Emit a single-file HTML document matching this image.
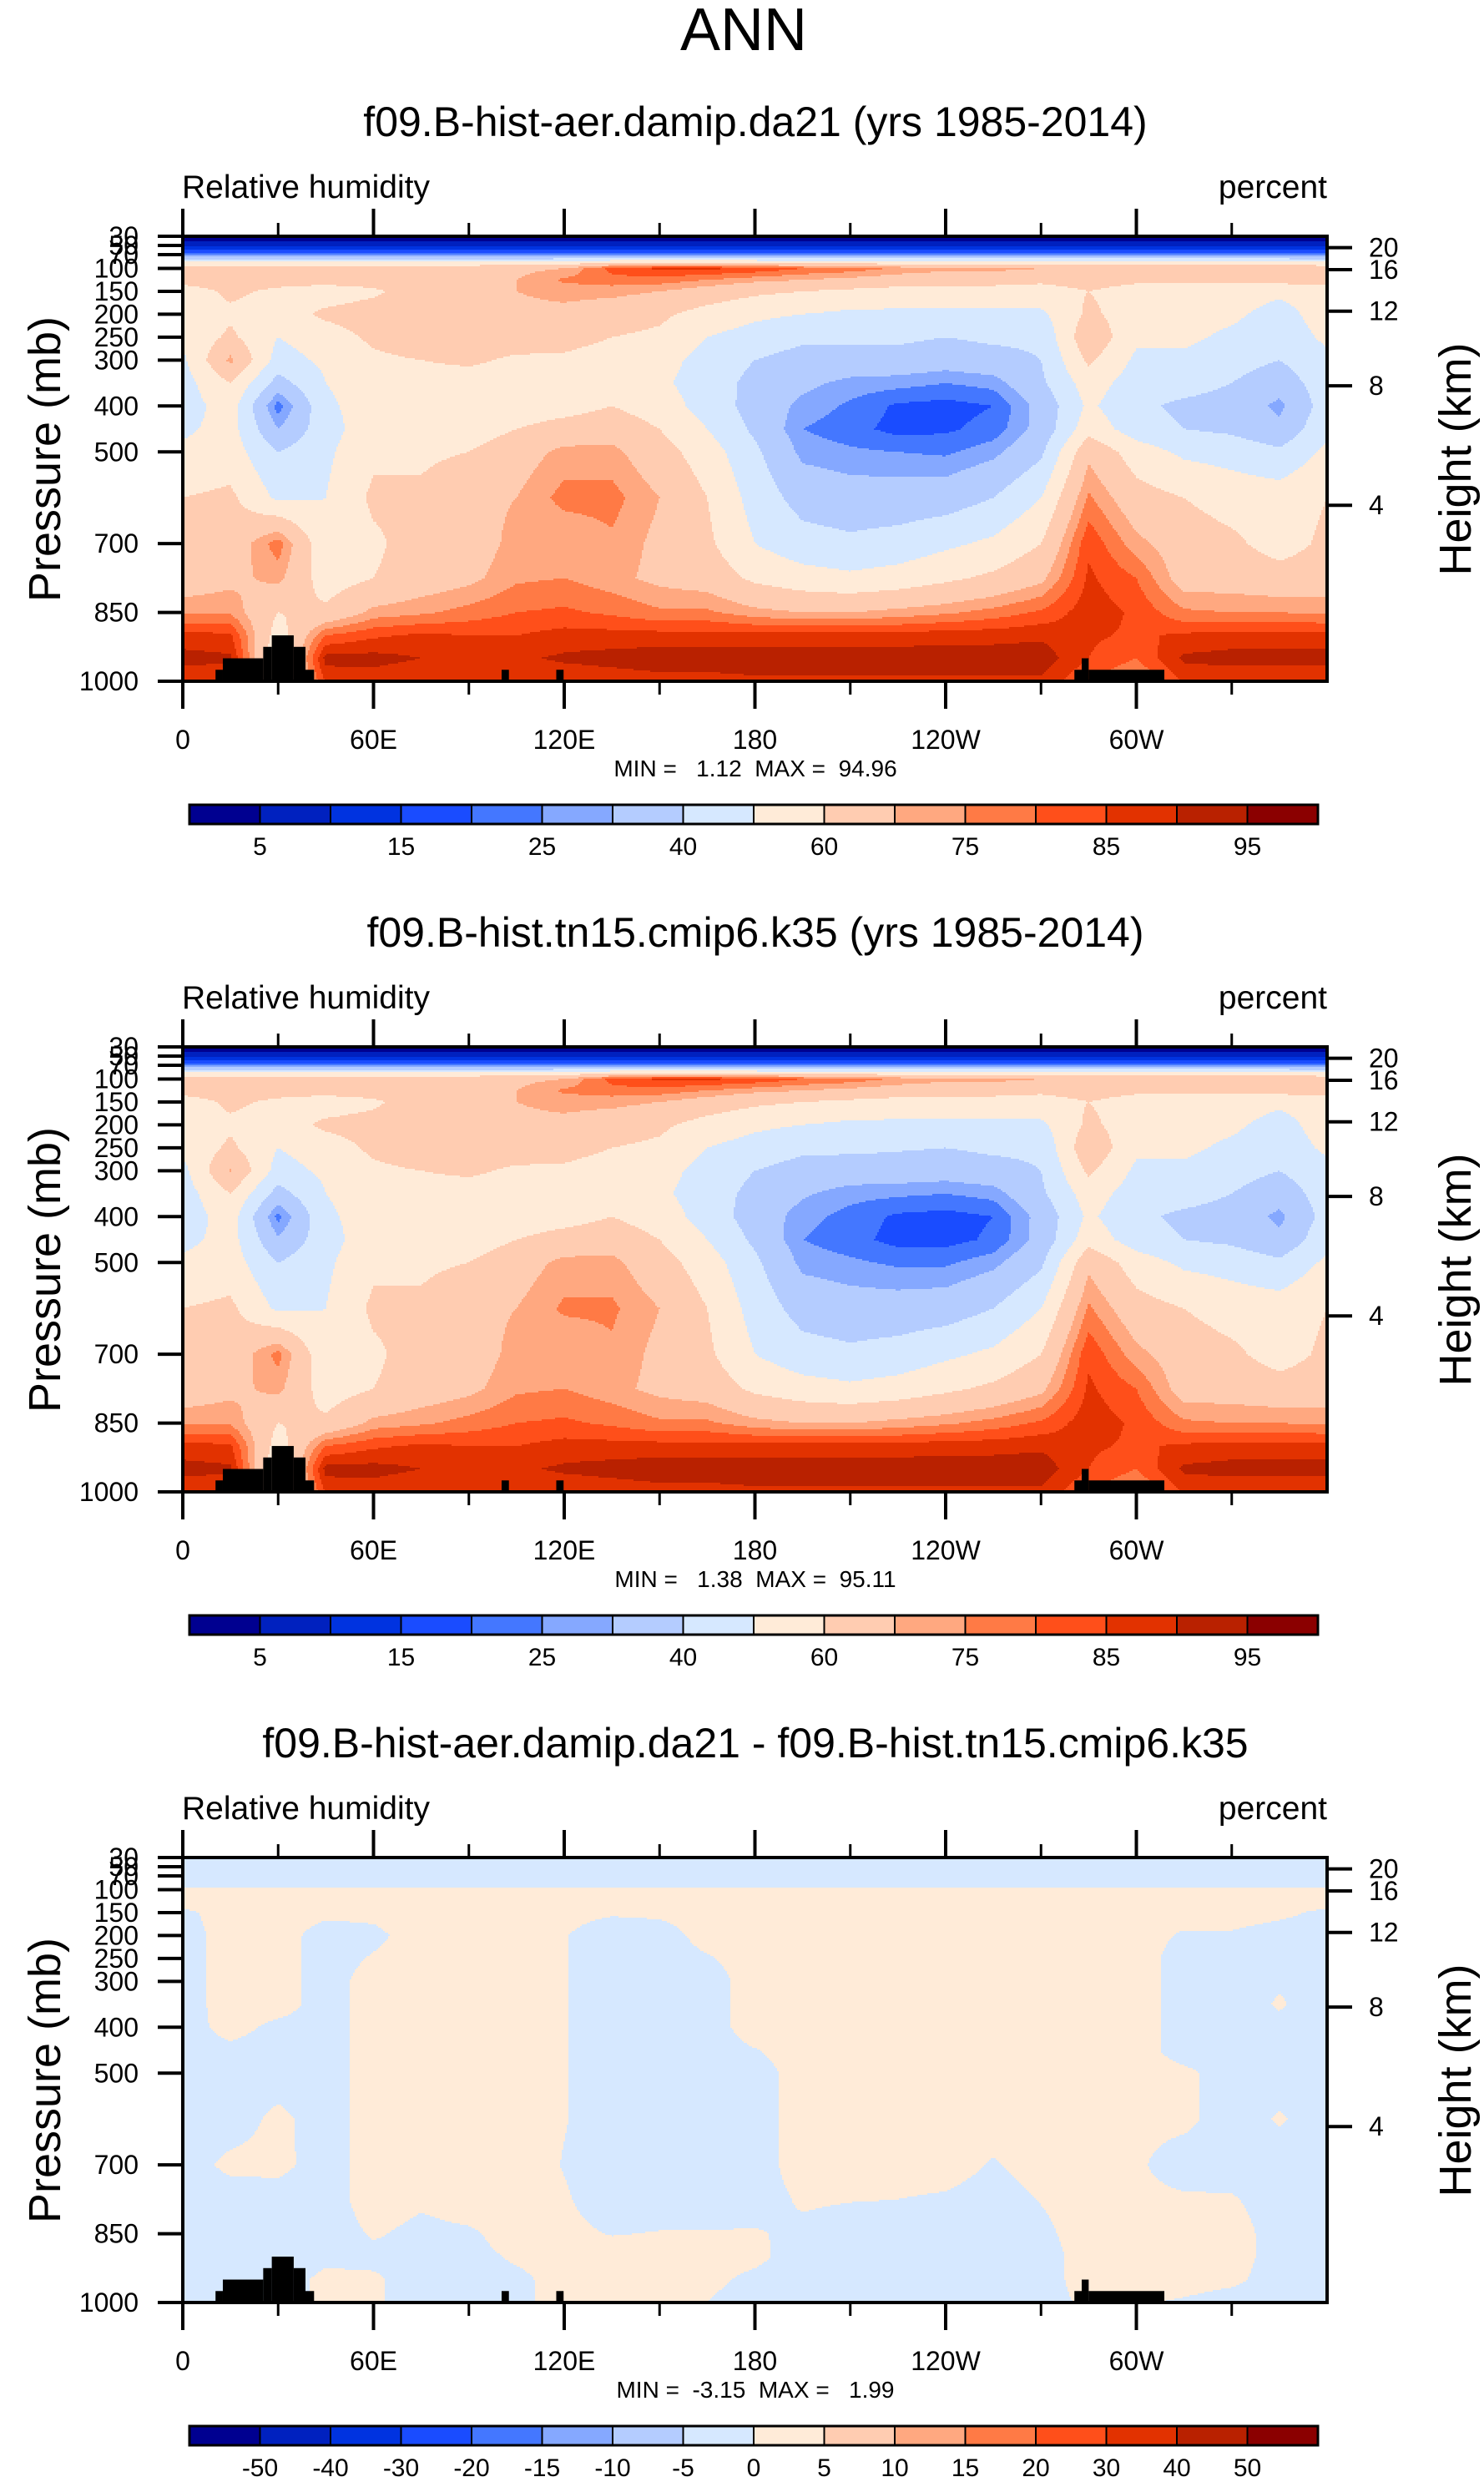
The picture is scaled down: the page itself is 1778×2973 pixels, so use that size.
<!DOCTYPE html>
<html><head><meta charset="utf-8"><style>
html,body{margin:0;padding:0;background:#fff;}
svg{display:block;font-family:"Liberation Sans",Arial,sans-serif;}
</style></head><body>
<svg id="fig" xmlns="http://www.w3.org/2000/svg" width="1778" height="2973" viewBox="0 0 1778 2973">
<rect x="0" y="0" width="1778" height="2973" fill="#fff"/>
<text x="891" y="60" font-size="72" text-anchor="middle">ANN</text>
<text x="905" y="163" font-size="50" text-anchor="middle">f09.B-hist-aer.damip.da21 (yrs 1985-2014)</text>
<text x="905" y="1134" font-size="50" text-anchor="middle">f09.B-hist.tn15.cmip6.k35 (yrs 1985-2014)</text>
<text x="905" y="2105" font-size="50" text-anchor="middle">f09.B-hist-aer.damip.da21 - f09.B-hist.tn15.cmip6.k35</text>
<g>
<text x="218" y="237" font-size="39">Relative humidity</text>
<text x="1590" y="237" font-size="39" text-anchor="end">percent</text>
<text x="905" y="930" font-size="28" text-anchor="middle" xml:space="preserve">MIN =   1.12  MAX =  94.96</text>
</g>
<g>
<text x="218" y="1208" font-size="39">Relative humidity</text>
<text x="1590" y="1208" font-size="39" text-anchor="end">percent</text>
<text x="905" y="1901" font-size="28" text-anchor="middle" xml:space="preserve">MIN =   1.38  MAX =  95.11</text>
</g>
<g>
<text x="218" y="2179" font-size="39">Relative humidity</text>
<text x="1590" y="2179" font-size="39" text-anchor="end">percent</text>
<text x="905" y="2872" font-size="28" text-anchor="middle" xml:space="preserve">MIN =  -3.15  MAX =   1.99</text>
</g>
<text transform="translate(72,550) rotate(-90)" font-size="54" text-anchor="middle">Pressure (mb)</text>
<text transform="translate(72,1521) rotate(-90)" font-size="54" text-anchor="middle">Pressure (mb)</text>
<text transform="translate(72,2492) rotate(-90)" font-size="54" text-anchor="middle">Pressure (mb)</text>
<text transform="translate(1762,550) rotate(-90)" font-size="54" text-anchor="middle">Height (km)</text>
<text transform="translate(1762,1521) rotate(-90)" font-size="54" text-anchor="middle">Height (km)</text>
<text transform="translate(1762,2492) rotate(-90)" font-size="54" text-anchor="middle">Height (km)</text>
</svg>
<script>
// ---- data ----
const lons = [0,15,30,45,60,75,90,105,120,135,150,165,180,195,210,225,240,255,270,285,300,315,330,345];
const plevs = [30,50,70,85,100,125,150,200,250,300,350,400,450,500,600,700,775,850,900,950,1000];
const rhLevels = [5,10,15,20,25,30,40,50,60,70,75,80,85,90,95];
const diffLevels = [-50,-40,-30,-20,-15,-10,-5,0,5,10,15,20,30,40,50];
const palette = ["#000090","#0021bf","#0033e0","#1a4cff","#4477ff","#85a8ff","#b4ccff","#d6e8ff","#ffebd8","#ffccb1","#ffa880","#ff7a45","#ff4f1a","#e23200","#b92100","#8b0000"];
const rhTickLabels = ["5","15","25","40","60","75","85","95"];
const diffTickLabels = ["-50","-40","-30","-20","-15","-10","-5","0","5","10","15","20","30","40","50"];
const lonTicks = [0,60,120,180,240,300];
const lonTickLabels = ["0","60E","120E","180","120W","60W"];
const lonMinor = [30,90,150,210,270,330];
const presTicks = [30,50,70,100,150,200,250,300,400,500,700,850,1000];
const presTickLabels = ["30","50","70","100","150","200","250","300","400","500","700","850","1000"];
const heightTicks = [4,8,12,16,20];
const heightTickLabels = ["4","8","12","16","20"];
// land mask: [lonStart, lonEnd, topPressure]
const landLon0 = [10.3,12.6,25.3,28,34.9,38.6,100.3,117.5,280.5,282.8,285];
const landLon1 = [12.6,25.3,28,34.9,38.6,41.3,102.6,119.8,282.8,285,308.8];
const landTop  = [975,950,925,900,925,975,975,975,975,950,975];
// panel 1 RH (column per longitude, values per pressure level)
const rhA = [
[2,8,22,50,66,64,55,55,52,48,46,45,48,52,60,62,65,74,87,92,86],
[2,8,22,50,67,65,62,58,62,72,60,55,54,55,62,64,68,74,86,91,86],
[2,8,22,50,67,64,58,55,50,46,36,22,30,40,48,78,72,60,55,50,50],
[2,8,22,50,67,64,55,62,55,52,50,48,46,48,50,52,55,62,80,92,86],
[2,8,22,50,67,65,58,65,62,58,55,55,56,58,62,58,60,72,84,92,87],
[2,8,22,50,67,66,66,68,66,60,55,54,56,58,62,65,65,74,86,90,85],
[2,8,22,50,67,65,68,66,66,62,55,54,55,60,68,66,68,77,85,90,85],
[2,8,22,50,68,70,70,68,66,58,55,54,60,66,70,72,74,80,85,89,85],
[2,8,22,52,70,76,72,68,64,58,52,56,64,72,77,70,75,81,87,91,86],
[2,8,22,55,82,78,72,65,60,55,55,60,66,72,77,74,72,79,87,92,87],
[2,8,22,55,86,78,70,62,58,54,52,55,60,64,70,68,68,76,87,93,88],
[2,8,22,55,86,75,66,56,50,46,45,46,50,55,60,62,66,76,87,93,88],
[2,8,22,55,84,72,62,52,46,40,37,36,38,42,46,50,58,72,87,93,89],
[2,8,22,52,80,70,60,50,42,36,32,28,25,28,36,44,54,70,87,93,89],
[2,8,22,52,78,68,58,48,42,36,28,24,22,26,34,42,52,70,87,93,89],
[2,8,22,52,74,66,56,48,42,36,27,19,18,25,34,44,54,72,87,93,89],
[2,8,22,52,72,64,56,48,40,34,25,18,19,24,35,48,58,74,88,93,89],
[2,8,22,52,72,64,56,48,42,36,27,20,22,28,40,52,62,77,88,93,89],
[2,8,22,52,70,62,56,48,42,40,38,33,33,38,50,60,68,81,89,93,89],
[2,8,22,52,70,64,60,62,68,62,55,52,56,68,76,84,86,88,86,85,80],
[2,8,22,52,68,62,56,55,52,48,45,42,45,55,64,72,80,84,84,80,74],
[2,8,22,52,68,62,55,54,52,48,44,38,40,48,60,65,66,76,86,91,86],
[2,8,22,52,68,62,55,52,48,44,40,36,38,46,56,62,66,75,87,92,86],
[2,8,22,52,70,64,52,46,44,40,34,28,32,42,55,56,64,75,87,92,86]
];
// panel 2 RH
const rhB = [
[2,8,22,50,66,64,55,55,52,47,45,44,47,52,60,62,65,74,87,92,86],
[2,8,22,50,67,65,62,58,62,71,60,55,54,55,62,64,68,74,86,91,86],
[2,8,22,50,67,64,58,55,50,46,36,23,31,40,48,77,72,60,55,50,50],
[2,8,22,50,67,64,55,62,55,52,50,48,46,48,50,52,55,62,80,92,86],
[2,8,22,50,67,65,58,64,62,58,55,55,56,58,62,58,60,72,84,92,87],
[2,8,22,50,67,66,66,68,66,60,55,54,56,58,62,65,65,74,86,90,85],
[2,8,22,50,67,65,68,66,66,62,55,54,55,60,68,66,68,77,85,90,85],
[2,8,22,50,68,70,70,68,66,58,55,54,60,66,70,72,74,80,85,89,85],
[2,8,22,52,70,76,72,68,64,58,52,56,64,72,76,70,75,81,87,91,86],
[2,8,22,55,82,78,72,65,60,55,55,60,66,72,76,74,72,79,87,92,87],
[2,8,22,55,86,78,70,62,58,54,52,55,60,64,70,68,68,76,87,93,88],
[2,8,22,55,86,75,66,56,50,46,45,46,50,55,60,62,66,76,87,93,88],
[2,8,22,55,84,72,62,52,46,40,37,35,38,42,46,50,58,72,87,93,89],
[2,8,22,52,80,70,60,50,42,36,31,27,25,28,36,44,54,70,87,93,89],
[2,8,22,52,78,68,58,48,42,35,27,23,22,26,34,42,52,70,87,93,89],
[2,8,22,52,74,66,56,48,41,35,26,19,18,24,34,44,54,72,87,93,89],
[2,8,22,52,72,64,56,48,40,34,25,18,18,24,35,48,58,74,88,93,89],
[2,8,22,52,72,64,56,48,42,36,27,20,21,28,40,52,62,77,88,93,89],
[2,8,22,52,70,62,56,48,42,40,38,33,33,38,50,60,68,81,89,93,89],
[2,8,22,52,70,64,60,62,68,62,55,52,56,68,76,84,86,88,86,85,80],
[2,8,22,52,68,62,56,55,52,48,45,42,45,55,64,72,80,84,84,80,74],
[2,8,22,52,68,62,55,54,52,48,44,38,40,48,60,65,66,76,86,91,86],
[2,8,22,52,68,62,55,52,48,44,40,36,38,46,56,62,66,75,87,92,86],
[2,8,22,52,70,64,52,46,44,40,34,28,32,42,55,56,64,75,87,92,86]
];
// panel 3 difference (A - B)
const rhDiff = [
[-1,-1,-1,-1,0.3,1,-0.5,-1,-1,-1,-1,-1,-1,-1,-1,-1,-1,-1,-1,-1,-1],
[-1,-1,-1,-1,0.3,1,1,1,1,1,1,0.8,-0.5,-1,-1,0.5,-1,-1,-1,-1,-1],
[-1,-1,-1,-1,0.3,1,1,1,1,1,1,-0.6,-1,-1,0.5,0.6,-1,-1,-1,-1,-1],
[-1,-1,-1,-1,0.3,1,0.5,-1,-1,-1,-1,-1,-1,-1,-1,-1,-1,-1,-0.5,0.5,0.5],
[-1,-1,-1,-1,0.3,1,0.5,-0.5,0.2,1,1,1,1,1,1,1,1,0.2,-0.5,0.3,0.3],
[-1,-1,-1,-1,0.3,1,1,1,1,1,1,1,1,1,1,1,0.3,-0.5,-0.3,-1,-1],
[-1,-1,-1,-1,0.3,1,1,1,1,1,1,1,1,1,1,1,1,-0.3,-0.5,-0.5,-0.5],
[-1,-1,-1,-1,0.3,1,1,1,1,1,1,1,1,1,1,1,1,0.8,0.2,-0.3,-0.3],
[-1,-1,-1,-1,0.3,1,0.5,0.1,0.1,0.1,0.1,0.1,0.1,0.1,0.1,-0.1,0.2,0.5,0.5,0.5,0.5],
[-1,-1,-1,-1,0.3,1,0.2,-1,-1,-1,-1,-1,-1,-1,-1,-1,-1,-0.1,1,1,1],
[-1,-1,-1,-1,0.3,1,0.4,-1,-1,-1,-1,-1,-1,-1,-1,-1,-1,0.1,1,1,0.5],
[-1,-1,-1,-1,0.3,1,1,0.8,-0.2,-1,-1,-1,-1,-1,-1,-1,-1,0.1,1,0.5,0],
[-1,-1,-1,-1,0.3,1,1,1,1,1,1,1,-0.1,-1,-1,-1,-1,0.2,0.5,-0.5,-1],
[-1,-1,-1,-1,0.3,1,1,1,1,1,1,1,1,1,1,1,0.3,-0.5,-1,-1,-0.5],
[-1,-1,-1,-1,0.3,1,1,1,1,1,1,1,1,1,1,1,0.1,-1,-1,-1,-0.5],
[-1,-1,-1,-1,0.3,1,1,1,1,1,1,1,1,1,1,1,0,-1,-1,-1,-0.5],
[-1,-1,-1,-1,0.3,1,1,1,1,1,1,1,1,1,1,1,-0.3,-1,-1,-1,-1],
[-1,-1,-1,-1,0.3,1,1,1,1,1,1,0.3,1,1,1,-0.2,-1,-1,-1,-1,-1],
[-1,-1,-1,-1,0.3,1,1,1,1,1,1,1,1,1,1,1,0.1,-0.5,-1,-1,-1],
[-1,-1,-1,-1,0.3,1,1,1,1,1,1,1,1,1,1,1,1,1,1,1,0.5],
[-1,-1,-1,-1,0.3,1,1,1,1,1,1,1,1,1,0.5,0.3,0.5,1,1,1,0.3],
[-1,-1,-1,-1,0.3,1,1,-0.3,-1,-1,-1,-1,-1,0.5,0.5,-1,0.3,1,1,1,-0.3],
[-1,-1,-1,-1,0.3,1,1,-0.3,-1,-1,-1,-1,-1,-1,-1,-1,0.2,1,1,0.5,-1],
[-1,-1,-1,-1,0.3,1,0.5,-1,-1,-0.2,0.2,-0.5,-1,-1,0.2,-1,-1,-1,-1,-1,-1]
];

// ---- layout ----
const NS = "http://www.w3.org/2000/svg";
const svg = document.getElementById("fig");
const X0 = 219, X1 = 1590, PH = 533, TOP = 283, DY = 971;
const CB0 = 227, CB1 = 1579, CBT = 964, CBH = 23;
function xScale(lon){ return X0 + lon/360*(X1-X0); }
function yScale(p, oy){ return TOP + oy + (p-30)/970*PH; }
function heightToP(h){ return h<=11 ? 1013.25*Math.pow(1-0.0065*h*1000/288.15,5.2559) : 226.32*Math.exp(-(h-11)*1000/6341.6); }
function mk(tag, attrs, parent){ const e=document.createElementNS(NS,tag); for(const k in attrs) e.setAttribute(k,attrs[k]); (parent||svg).appendChild(e); return e; }
function sample(grid, lon, p){
  let i = Math.floor(lon/15); if(i>23) i=23; const f=(lon-lons[i])/15; const i2=(i+1)%24;
  let j=0; while(j<plevs.length-2 && p>plevs[j+1]) j++;
  const g=Math.max(0,Math.min(1,(p-plevs[j])/(plevs[j+1]-plevs[j])));
  const a=grid[i][j]*(1-f)+grid[i2][j]*f, b=grid[i][j+1]*(1-f)+grid[i2][j+1]*f;
  return a*(1-g)+b*g;
}
function colorIdx(v, levels){ let k=0; while(k<levels.length && v>=levels[k]) k++; return k; }

function drawPanel(n, grid, levels, cbLabels, labelEvery){
  const oy = n*DY;
  const g = mk("g", {});
  
  
  const step = 2, W = X1-X0;
  for(let yy=0; yy<PH; yy+=step){
    const p = 30 + Math.min(yy+step/2, PH)/PH*970;
    let runStart=0, runC=-1;
    const flush = (endX)=>{
      if(runC>=0){
        const r = mk("rect",{x:X0+runStart,y:TOP+oy+yy,width:endX-runStart+0.6,height:step+0.6,fill:palette[runC]},g);
        
        
      }
    };
    for(let xx=0; xx<W; xx+=step){
      const lon=Math.min(xx+step/2, W)/W*360;
      const c=colorIdx(sample(grid,lon,p),levels);
      if(c!==runC){ flush(xx); runStart=xx; runC=c; }
    }
    flush(W);
  }
  for(let k=0;k<landLon0.length;k++){
    const x=xScale(landLon0[k]), y=yScale(landTop[k],oy);
    const r = mk("rect",{x:x,y:y,width:xScale(landLon1[k])-x,height:yScale(1000,oy)-y,fill:"#000"});
    
    
  }
  const fr = mk("rect",{x:X0,y:TOP+oy,width:X1-X0,height:PH,fill:"none",stroke:"#000","stroke-width":4});
  
  
  lonTicks.forEach((lon,k)=>{
    const x=xScale(lon);
    const t1=mk("line",{x1:x,x2:x,y1:TOP+oy,y2:TOP+oy-33,stroke:"#000","stroke-width":4});
     
    const t2=mk("line",{x1:x,x2:x,y1:TOP+oy+PH,y2:TOP+oy+PH+33,stroke:"#000","stroke-width":4});
     
    const tx=mk("text",{x:x,y:TOP+oy+PH+81,"font-size":32,"text-anchor":"middle"});
    tx.textContent=lonTickLabels[k];
     
  });
  lonMinor.forEach(lon=>{
    const x=xScale(lon);
    const t1=mk("line",{x1:x,x2:x,y1:TOP+oy,y2:TOP+oy-16,stroke:"#000","stroke-width":3});
     
    const t2=mk("line",{x1:x,x2:x,y1:TOP+oy+PH,y2:TOP+oy+PH+16,stroke:"#000","stroke-width":3});
     
  });
  presTicks.forEach((p,k)=>{
    const y=yScale(p,oy);
    const t=mk("line",{x1:X0,x2:X0-30,y1:y,y2:y,stroke:"#000","stroke-width":4});
     
    const tx=mk("text",{x:166,y:y+11,"font-size":32,"text-anchor":"end"});
    tx.textContent=presTickLabels[k];
     
  });
  heightTicks.forEach((h,k)=>{
    const y=yScale(heightToP(h),oy);
    const t=mk("line",{x1:X1,x2:X1+30,y1:y,y2:y,stroke:"#000","stroke-width":4});
     
    const tx=mk("text",{x:1640,y:y+11,"font-size":32});
    tx.textContent=heightTickLabels[k];
     
  });
  const cw=(CB1-CB0)/palette.length;
  palette.forEach((c,k)=>{
    const r=mk("rect",{x:CB0+k*cw,y:CBT+oy,width:cw,height:CBH,fill:c,stroke:"#000","stroke-width":2});
     
  });
  const cbf=mk("rect",{x:CB0,y:CBT+oy,width:CB1-CB0,height:CBH,fill:"none",stroke:"#000","stroke-width":3});
   
  cbLabels.forEach((s,k)=>{
    const b = labelEvery===2 ? 2*k+1 : k+1;
    const tx=mk("text",{x:CB0+b*cw,y:CBT+oy+60,"font-size":30,"text-anchor":"middle"});
    tx.textContent=s;
     
  });
}
drawPanel(0, rhA, rhLevels, rhTickLabels, 2);
drawPanel(1, rhB, rhLevels, rhTickLabels, 2);
drawPanel(2, rhDiff, diffLevels, diffTickLabels, 1);
</script>
</body></html>
